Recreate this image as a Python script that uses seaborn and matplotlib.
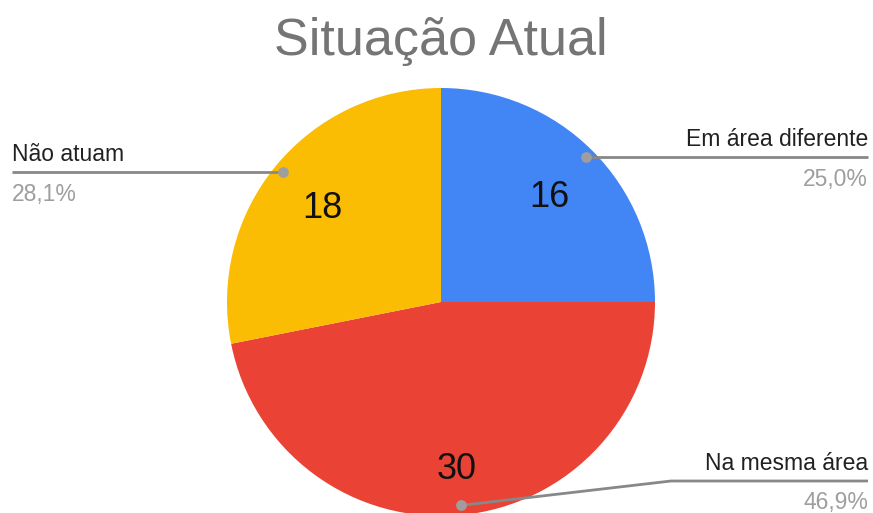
import numpy as np
import matplotlib
matplotlib.use("Agg")
import matplotlib.pyplot as plt
import seaborn as sns

# dados do gráfico
categorias = ["Em área diferente", "Na mesma área", "Não atuam"]
valores = [16, 30, 18]
percentuais = ["25,0%", "46,9%", "28,1%"]
cores = ["#4285F4", "#EA4335", "#FBBC04"]

sns.set_theme(style="white")
plt.rcParams["font.family"] = ["Liberation Sans", "DejaVu Sans"]

W, H = 873, 513
R = 214.0           # raio da pizza em pixels
cx, cy = 441, 302   # centro em pixels (y de cima)

fig = plt.figure(figsize=(W / 100, H / 100), dpi=100)
ax = fig.add_axes([0, 0, 1, 1])

wedges, textos = ax.pie(valores, colors=sns.color_palette(cores), startangle=90,
                        counterclock=False, radius=1.0, labels=[str(v) for v in valores],
                        labeldistance=0.72,
                        textprops=dict(fontsize=26, color="#111111"),
                        wedgeprops=dict(linewidth=0))

# distância radial de cada número dentro da fatia
dist_num = [0.717, 0.769, 0.717]
for w, t, d in zip(wedges, textos, dist_num):
    ang = np.deg2rad((w.theta1 + w.theta2) / 2)
    # ancorado na linha de base, meio dígito abaixo do centro
    t.set_position((d * np.cos(ang), d * np.sin(ang) - 13 / R))
    t.set_ha("center")
    t.set_va("baseline")

# limites depois do pie (o pie reajusta os eixos)
ax.set_xlim(-cx / R, (W - cx) / R)
ax.set_ylim(-(H - cy) / R, cy / R)
ax.set_aspect("equal")
ax.axis("off")

def px(x, y):
    # pixel -> coordenadas de dados
    return (x - cx) / R, (cy - y) / R

# posição do rótulo: (lado, y da linha em px, x do cotovelo em px ou None)
layout = {
    "Em área diferente": ("right", None, None),
    "Na mesma área": ("right", 481, 671),
    "Não atuam": ("left", None, None),
}

linha = "#888888"
for w, cat, pct in zip(wedges, categorias, percentuais):
    ang = np.deg2rad((w.theta1 + w.theta2) / 2)
    dx, dy = 0.955 * np.cos(ang), 0.955 * np.sin(ang)
    lado, ylin, xcot = layout[cat]
    if ylin is None:
        ylin_d = dy
    else:
        ylin_d = px(0, ylin)[1]
    if lado == "right":
        xfim = px(868, 0)[0]
    else:
        xfim = px(12, 0)[0]
    if xcot is not None:
        xs = [dx, px(xcot, 0)[0], xfim]
        ys = [dy, ylin_d, ylin_d]
    else:
        xs = [dx, xfim]
        ys = [dy, ylin_d]
    ax.plot(xs, ys, color=linha, lw=2, solid_capstyle="butt", zorder=3)
    ax.scatter([dx], [dy], s=60, color="#9e9e9e", zorder=4, linewidths=0)
    ax.text(xfim, ylin_d + 11.5 / R, cat, ha=lado, va="baseline", fontsize=16.5, color="#212121")
    ax.text(xfim, ylin_d - 28.5 / R, pct, ha=lado, va="baseline", fontsize=16.5, color="#9e9e9e")

ax.text(*px(441, 55), "Situação Atual", ha="center", va="baseline", fontsize=37.5, color="#757575")

fig.savefig("out.png", dpi=100)
